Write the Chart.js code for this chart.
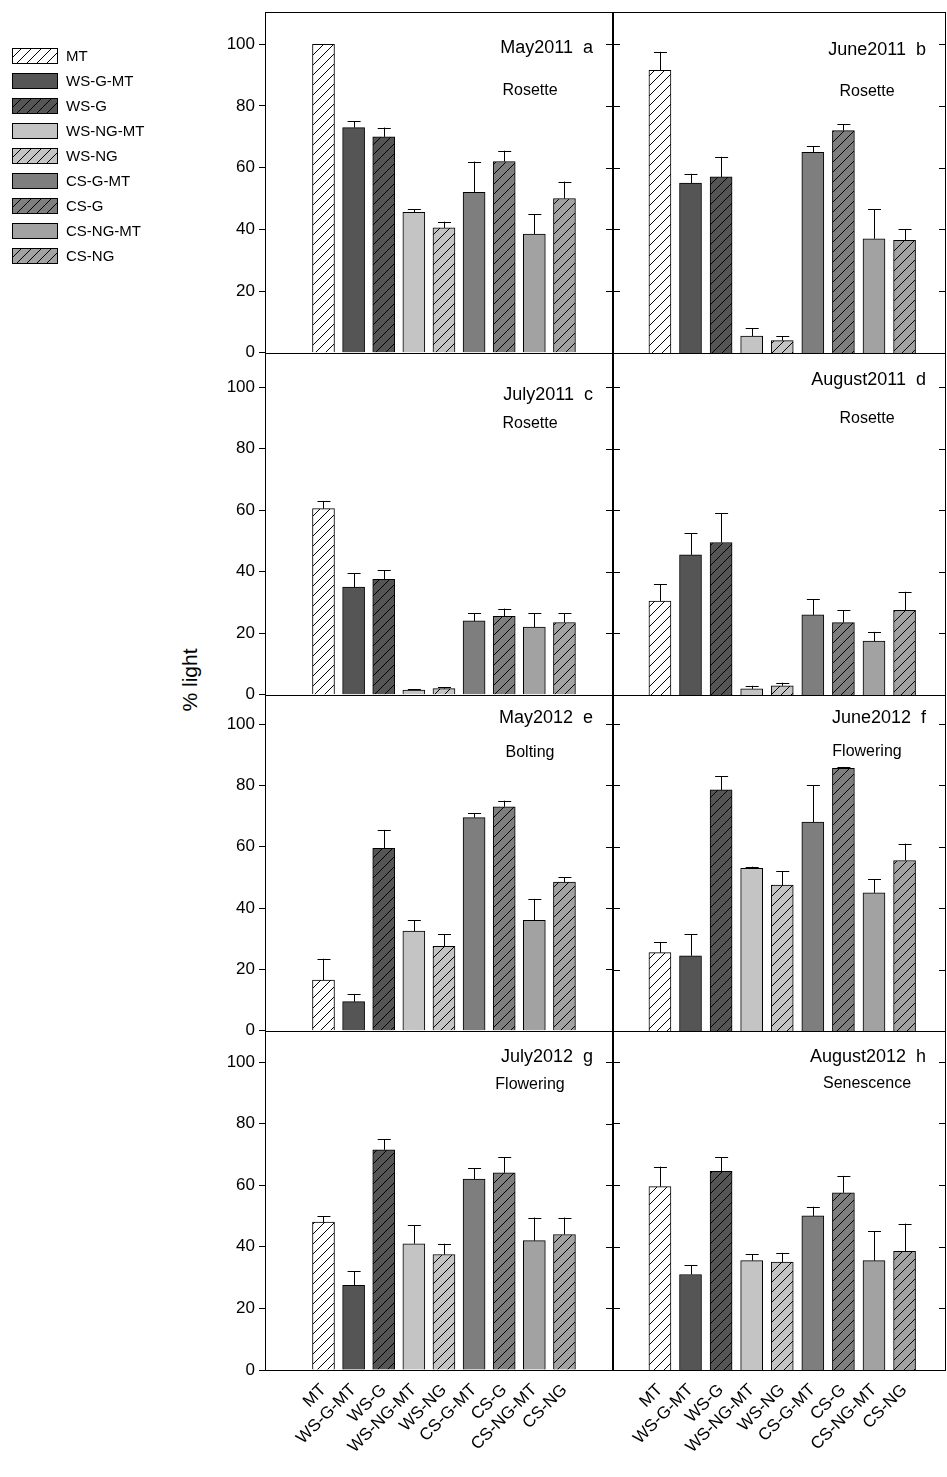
<!DOCTYPE html>
<html><head><meta charset="utf-8">
<script src="https://cdn.jsdelivr.net/npm/chart.js@4"></script>
<style>
body{margin:0;width:947px;height:1477px;background:#fff;position:relative;overflow:hidden;font-family:"Liberation Sans",Arial,sans-serif}
canvas{position:absolute}
#yl{position:absolute;left:150px;top:668px;width:80px;text-align:center;font-size:21px;transform:rotate(-90deg)}
</style></head><body>
<canvas id="leg" width="180" height="280" style="left:0;top:30px"></canvas>
<div id="yl">% light</div>
<script>
const categories=["MT","WS-G-MT","WS-G","WS-NG-MT","WS-NG","CS-G-MT","CS-G","CS-NG-MT","CS-NG"];
const titles=["May2011  a","June2011  b","July2011  c","August2011  d","May2012  e","June2012  f","July2012  g","August2012  h"];
const stages=["Rosette","Rosette","Rosette","Rosette","Bolting","Flowering","Flowering","Senescence"];
const valA=[100,73,70,45.5,40.5,52,62,38.5,50], errA=[0,2,3,1,2,10,3.5,6.5,5.5];
const valB=[91.5,55,57,5.5,4,65,72,37,36.5], errB=[6,3,6.5,2.5,1.5,2,2,9.5,3.5];
const valC=[60.5,35,37.5,1.5,2,24,25.5,22,23.5], errC=[2.5,4.5,3,0.3,0.5,2.5,2.5,4.5,3];
const valD=[30.5,45.5,49.5,2,3,26,23.5,17.5,27.5], errD=[5.5,7,9.5,1,1,5,4,3,6];
const valE=[16.5,9.5,59.5,32.5,27.5,69.5,73,36,48.5], errE=[7,2.5,6,3.5,4,1.5,2,7,1.5];
const valF=[25.5,24.5,78.5,53,47.5,68,85.5,45,55.5], errF=[3.5,7,4.5,0.5,4.5,12,0.5,4.5,5.5];
const valG=[48,27.5,71.5,41,37.5,62,64,42,44], errG=[2,4.5,3.5,6,3.5,3.5,5,7.5,5.5];
const valH=[59.5,31,64.5,35.5,35,50,57.5,35.5,38.5], errH=[6.5,3,4.5,2,3,3,5.5,9.5,9];
const yTicks=[0,20,40,60,80,100];
const values=[valA,valB,valC,valD,valE,valF,valG,valH];
const errors=[errA,errB,errC,errD,errE,errF,errG,errH];

const colors=["#ffffff","#555555","#555555","#c4c4c4","#c4c4c4","#7e7e7e","#7e7e7e","#a2a2a2","#a2a2a2"];
const hatched=[true,false,true,false,true,false,true,false,true];
function fillFor(i,ctx){
  if(!hatched[i]) return colors[i];
  const c=document.createElement('canvas');c.width=10;c.height=10;const g=c.getContext('2d');
  g.fillStyle=colors[i];g.fillRect(0,0,10,10);g.strokeStyle='#000';g.lineWidth=1;
  g.beginPath();g.moveTo(-1,11);g.lineTo(11,-1);g.moveTo(-1,1);g.lineTo(1,-1);g.moveTo(9,11);g.lineTo(11,9);g.stroke();
  return ctx.createPattern(c,'repeat');
}
(function(){const cv=document.getElementById('leg'),g=cv.getContext('2d');
 g.font='15px "Liberation Sans", Arial';g.textBaseline='middle';
 categories.forEach((c,i)=>{const y=18+i*25;g.fillStyle=fillFor(i,g);g.fillRect(12,y,46,16);g.strokeStyle='#000';g.lineWidth=1;g.strokeRect(12.5,y+0.5,45,15);g.fillStyle='#000';g.fillText(c,66,y+9);});
})();

const rows=[[12,353],[353,695],[695,1031],[1031,1370]];
const yMax=[110.4,111,109.4,110];
const cols=[{left:190,w:424,axisW:75,xmin:-1.3,xmax:8.97,pad:14},{left:613,w:334,axisW:0,xmin:-0.93,xmax:8.75,pad:10}];
const titleOff=[36,38,42,27,23,23,26,26], subOff=[78,80,70,66,57,57,53,53];

const deco={id:'deco',afterDatasetsDraw(ch,a,o){
  const g=ch.ctx,ca=ch.chartArea,ys=ch.scales.y,p=o.p;
  const meta=ch.getDatasetMeta(0);
  g.save();g.strokeStyle='#000';g.lineWidth=1;
  meta.data.forEach((el,i)=>{const e=errors[p][i];if(!e)return;const yt=ys.getPixelForValue(values[p][i]+e);
    g.beginPath();g.moveTo(Math.round(el.x)+0.5,el.y);g.lineTo(Math.round(el.x)+0.5,yt);g.moveTo(el.x-6,Math.round(yt)+0.5);g.lineTo(el.x+7,Math.round(yt)+0.5);g.stroke();});
  g.strokeRect(Math.round(ca.left)+0.5,Math.round(ca.top)+0.5,Math.round(ca.right-ca.left)-1,Math.round(ca.bottom-ca.top));
  yTicks.forEach(t=>{const y=Math.round(ys.getPixelForValue(t))+0.5;g.beginPath();g.moveTo(ca.right-7,y);g.lineTo(ca.right,y);if(p%2===1){g.moveTo(ca.left,y);g.lineTo(ca.left+7,y);}g.stroke();});
  g.fillStyle='#000';g.font='18px "Liberation Sans", Arial';g.textAlign='right';g.textBaseline='middle';
  g.fillText(titles[p],ca.right-20,ca.top+titleOff[p]);
  g.font='16px "Liberation Sans", Arial';g.textAlign='center';
  g.fillText(stages[p],ca.right-(p%2?79:83),ca.top+subOff[p]);
  g.restore();}};

for(let p=0;p<8;p++){
  const r=Math.floor(p/2),c=cols[p%2],[t,b]=rows[r],bottom=r===3;
  const cv=document.createElement('canvas');
  const top=t-c.pad,h=bottom?1477-top:(b-t+2*c.pad);
  cv.width=c.w;cv.height=h;
  cv.style.left=c.left+'px';cv.style.top=top+'px';cv.style.width=c.w+'px';cv.style.height=h+'px';
  document.body.appendChild(cv);
  const ctx=cv.getContext('2d');
  new Chart(cv,{type:'bar',
    data:{datasets:[{data:values[p].map((v,i)=>({x:i,y:v})),backgroundColor:categories.map((_,i)=>fillFor(i,ctx)),borderColor:'#000',borderWidth:1,barThickness:22}]},
    options:{responsive:false,maintainAspectRatio:false,animation:false,devicePixelRatio:1,
      layout:{padding:{top:10,bottom:bottom?0:10,left:0,right:1}},
      plugins:{legend:{display:false},tooltip:{enabled:false},deco:{p:p}},
      scales:{
        x:{type:'linear',min:c.xmin,max:c.xmax,display:bottom,grid:{display:false},border:{display:false},
          afterBuildTicks(s){s.ticks=categories.map((_,i)=>({value:i}));},
          afterFit(s){s.height=bottom?1477-1370:0;},
          ticks:{autoSkip:false,maxRotation:45,minRotation:45,padding:2,color:'#000',font:{size:17,family:'"Liberation Sans", Arial'},callback:v=>categories[v]||''}},
        y:{min:0,max:yMax[r],display:p%2===0,
          afterBuildTicks(s){s.ticks=yTicks.map(v=>({value:v}));},
          afterFit(s){s.width=c.axisW;},
          grid:{drawOnChartArea:false,tickLength:6,color:'#000'},border:{display:false},
          ticks:{color:'#000',padding:4,font:{size:17,family:'"Liberation Sans", Arial'}}}}},
    plugins:[deco]});
}
</script></body></html>
